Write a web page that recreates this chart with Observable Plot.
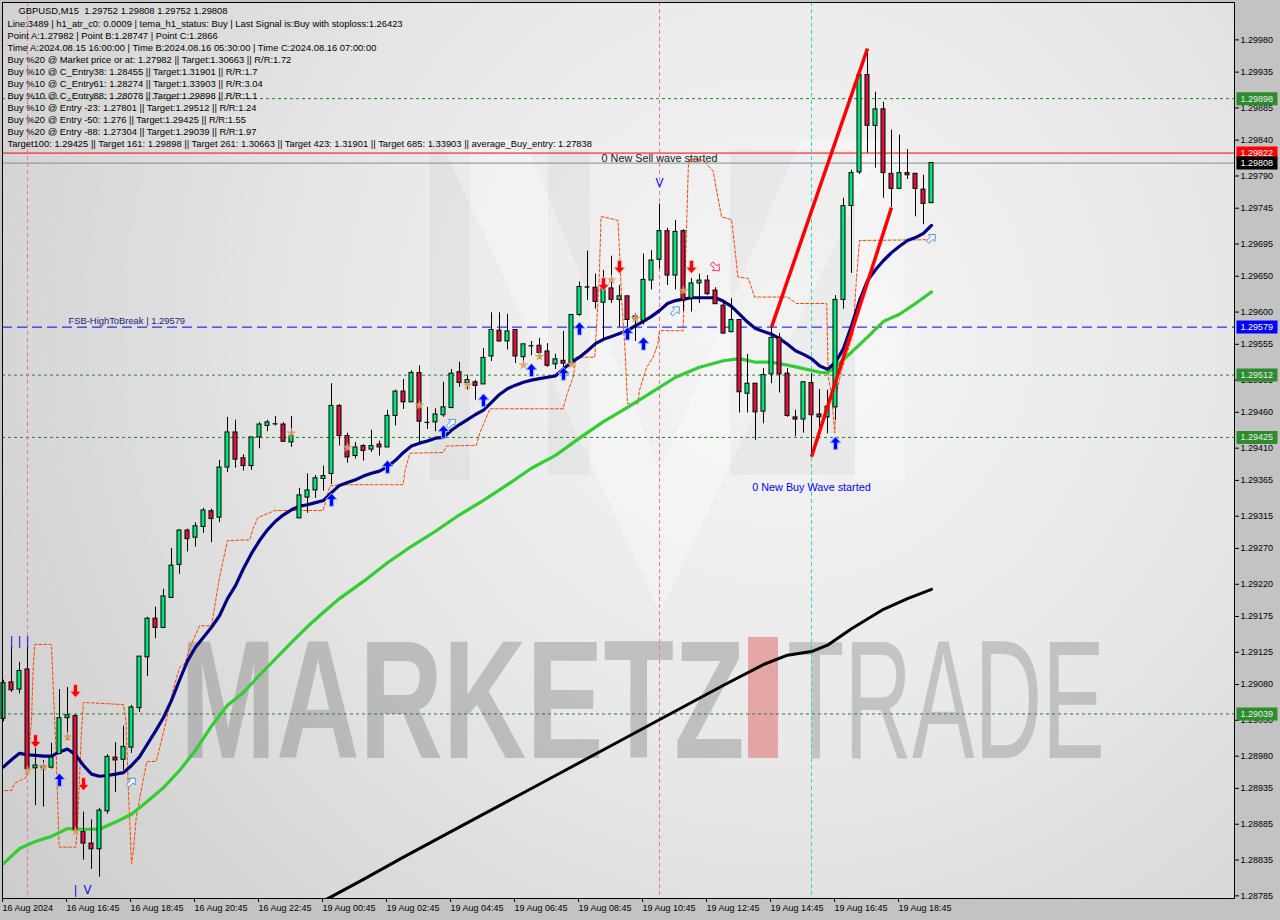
<!DOCTYPE html>
<html><head><meta charset="utf-8">
<script src="https://cdn.jsdelivr.net/npm/d3@7"></script>
<script src="https://cdn.jsdelivr.net/npm/@observablehq/plot@0.6"></script>
<style>html,body{margin:0;padding:0;background:#c3c3c3;}svg{display:block}</style>
</head><body><div id="chart"></div>
<script>
// ---------- DATA ----------
const open = [1.29032,1.29083,1.29073,1.29101,1.28963,1.28966,1.28964,1.28983,1.29033,1.29036,
1.28874,1.28858,1.28850,1.28903,1.28978,1.28975,1.28992,1.29047,1.29118,1.29172,
1.29159,1.29201,1.29247,1.29295,1.29285,1.29300,1.29322,1.29313,1.29383,1.29432,
1.29396,1.29385,1.29425,1.29441,1.29444,1.29443,1.29418,1.29312,1.29341,1.29351,
1.29367,1.29374,1.29469,1.29427,1.29399,1.29413,1.29408,1.29415,1.29411,1.29455,
1.29489,1.29474,1.29515,1.29446,1.29446,1.29456,1.29466,1.29516,1.29501,1.29502,
1.29499,1.29538,1.29574,1.29559,1.29575,1.29537,1.29553,1.29553,1.29545,1.29527,
1.29532,1.29528,1.29596,1.29635,1.29634,1.29613,1.29633,1.29617,1.29622,1.29590,
1.29588,1.29644,1.29673,1.29713,1.29651,1.29713,1.29619,1.29640,1.29644,1.29630,
1.29609,1.29572,1.29589,1.29486,1.29500,1.29461,1.29513,1.29564,1.29514,1.29453,
1.29450,1.29501,1.29457,1.29453,1.29467,1.29617,1.29748,1.29795,1.29931,1.29860,
1.29883,1.29793,1.29772,1.29794,1.29793,1.29771,1.29752];
const high = [1.29086,1.29132,1.29111,1.29132,1.28995,1.28974,1.28998,1.29073,1.29076,1.29038,
1.28902,1.28891,1.28907,1.28982,1.28999,1.29022,1.29051,1.29119,1.29174,1.29188,
1.29213,1.29270,1.29296,1.29297,1.29306,1.29326,1.29325,1.29393,1.29453,1.29449,
1.29401,1.29425,1.29446,1.29449,1.29454,1.29446,1.29454,1.29354,1.29374,1.29372,
1.29385,1.29500,1.29471,1.29431,1.29418,1.29415,1.29435,1.29420,1.29463,1.29491,
1.29506,1.29518,1.29525,1.29467,1.29465,1.29502,1.29520,1.29530,1.29512,1.29505,
1.29549,1.29599,1.29599,1.29597,1.29575,1.29555,1.29559,1.29563,1.29556,1.29541,
1.29573,1.29596,1.29642,1.29685,1.29653,1.29658,1.29678,1.29637,1.29622,1.29598,
1.29681,1.29686,1.29751,1.29717,1.29728,1.29715,1.29647,1.29653,1.29651,1.29634,
1.29616,1.29619,1.29589,1.29541,1.29500,1.29521,1.29579,1.29570,1.29521,1.29463,
1.29502,1.29514,1.29492,1.29491,1.29623,1.29759,1.29798,1.29933,1.29961,1.29907,
1.29893,1.29854,1.29847,1.29827,1.29793,1.29791,1.29808];
const low = [1.29028,1.29069,1.29067,1.28960,1.28911,1.28909,1.28962,1.28982,1.29002,1.28872,
1.28835,1.28822,1.28811,1.28899,1.28929,1.28960,1.28984,1.29041,1.29091,1.29144,
1.29159,1.29201,1.29234,1.29265,1.29272,1.29291,1.29278,1.29306,1.29376,1.29382,
1.29378,1.29379,1.29409,1.29433,1.29441,1.29418,1.29411,1.29312,1.29319,1.29340,
1.29350,1.29359,1.29413,1.29389,1.29395,1.29392,1.29404,1.29399,1.29411,1.29441,
1.29464,1.29474,1.29418,1.29436,1.29433,1.29453,1.29465,1.29495,1.29491,1.29477,
1.29499,1.29531,1.29558,1.29547,1.29528,1.29528,1.29539,1.29534,1.29523,1.29520,
1.29523,1.29528,1.29594,1.29616,1.29604,1.29561,1.29612,1.29579,1.29567,1.29559,
1.29582,1.29631,1.29660,1.29637,1.29631,1.29601,1.29600,1.29612,1.29623,1.29611,
1.29569,1.29571,1.29459,1.29459,1.29421,1.29444,1.29500,1.29487,1.29453,1.29426,
1.29431,1.29398,1.29430,1.29430,1.29449,1.29604,1.29654,1.29792,1.29822,1.29801,
1.29759,1.29746,1.29772,1.29785,1.29733,1.29722,1.29752];
const close = [1.29082,1.29072,1.29099,1.28962,1.28967,1.28963,1.28978,1.29033,1.29037,1.28876,
1.28858,1.28850,1.28904,1.28979,1.28974,1.28993,1.29048,1.29119,1.29172,1.29159,
1.29203,1.29246,1.29295,1.29283,1.29301,1.29323,1.29311,1.29383,1.29432,1.29394,
1.29385,1.29425,1.29443,1.29446,1.29444,1.29419,1.29427,1.29344,1.29351,1.29368,
1.29371,1.29469,1.29427,1.29397,1.29411,1.29406,1.29413,1.29411,1.29455,1.29489,
1.29474,1.29515,1.29447,1.29446,1.29457,1.29467,1.29514,1.29501,1.29505,1.29497,
1.29536,1.29575,1.29559,1.29573,1.29538,1.29555,1.29553,1.29543,1.29525,1.29534,
1.29528,1.29596,1.29635,1.29635,1.29614,1.29637,1.29617,1.29622,1.29589,1.29594,
1.29645,1.29672,1.29713,1.29651,1.29712,1.29616,1.29640,1.29644,1.29625,1.29611,
1.29570,1.29589,1.29488,1.29500,1.29460,1.29512,1.29564,1.29513,1.29455,1.29450,
1.29502,1.29456,1.29453,1.29468,1.29617,1.29748,1.29794,1.29931,1.29860,1.29883,
1.29794,1.29772,1.29794,1.29791,1.29772,1.29751,1.29808];

// navy moving average, one value per bar
const navyMA = [1.28965,1.28975,1.28984,1.28982,1.28981,1.28980,1.28980,1.28986,1.28990,1.28982,
1.28967,1.28955,1.28952,1.28953,1.28955,1.28957,1.28967,1.28979,1.28997,1.29015,
1.29034,1.29058,1.29086,1.29113,1.29132,1.29146,1.29160,1.29176,1.29200,1.29218,
1.29242,1.29263,1.29281,1.29296,1.29308,1.29317,1.29324,1.29329,1.29331,1.29334,
1.29337,1.29348,1.29358,1.29362,1.29366,1.29371,1.29375,1.29378,1.29384,1.29393,
1.29404,1.29413,1.29417,1.29420,1.29424,1.29425,1.29435,1.29443,1.29450,1.29457,
1.29463,1.29474,1.29485,1.29493,1.29498,1.29502,1.29505,1.29507,1.29509,1.29511,
1.29521,1.29530,1.29537,1.29546,1.29556,1.29562,1.29566,1.29570,1.29574,1.29581,
1.29587,1.29594,1.29602,1.29612,1.29616,1.29618,1.29620,1.29620,1.29620,1.29620,
1.29615,1.29608,1.29597,1.29586,1.29577,1.29573,1.29569,1.29563,1.29555,1.29546,
1.29541,1.29535,1.29525,1.29520,1.29530,1.29549,1.29581,1.29616,1.29644,1.29659,
1.29672,1.29683,1.29692,1.29700,1.29704,1.29710,1.29721];

// green moving average (bar, value)
const greenBars = [0,2,4,6,8,10,12,14,16,18,20,22,24,26,28,30,32,34,36,38,40,42,
45,48,51,54,57,60,63,66,69,72,75,78,81,84,87,90,92,94,96,98,100,102,103,104,106,108,110,112,114,116];
const greenMA = [1.28830,1.28851,1.28861,1.28868,1.28879,1.28878,1.28878,1.28888,1.28899,1.28917,1.28936,
1.28960,1.28988,1.29022,1.29051,1.29069,1.29093,1.29116,1.29139,1.29161,1.29181,1.29200,
1.29224,1.29250,1.29273,1.29294,1.29317,1.29337,1.29359,1.29382,1.29400,1.29424,1.29447,1.29467,
1.29488,1.29509,1.29523,1.29532,1.29535,1.29530,1.29530,1.29526,1.29521,1.29516,1.29515,1.29524,
1.29544,1.29565,1.29587,1.29597,1.29612,1.29628];

// black moving average (bar, value)
const blackBars = [38,41,45,50,55,60,65,70,75,80,85,90,95,98,101,103,106,110,113,116];
const blackMA = [1.28766,1.28784,1.28808,1.28839,1.28869,1.28899,1.28929,1.28959,1.28989,1.29019,
1.29049,1.29079,1.29108,1.29121,1.29126,1.29135,1.29158,1.29185,1.29200,1.29213];

// orange dashed stepped line (bar, value)
const orangeBars = [-0.46,1.0,1.4,2.9,3.5,3.7,3.9,6.0,6.2,6.6,6.95,9.04,9.3,9.75,10.0,15.0,15.3,15.6,16.0,16.2,
16.6,17.45,17.9,19.1,19.95,21.2,22.0,22.7,23.3,24.5,26.0,27.0,28.0,30.8,31.2,31.8,33.5,33.9,39.95,40.8,
42.0,49.95,50.2,50.8,54.95,55.4,59.1,59.5,60.8,69.95,70.4,71.2,71.6,73.9,74.1,74.45,74.7,74.95,76.8,77.0,
77.25,77.7,78.0,79.3,79.5,80.4,81.2,81.8,82.0,84.95,85.3,85.6,85.8,87.45,88.7,89.3,89.75,91.0,91.4,91.8,
93.1,93.9,98.0,99.1,102.9,103.1,103.5,103.9,104.1,104.75,106.2,106.6,107.0,115.8];
const orangeLine = [1.28932,1.28932,1.28942,1.28951,1.29030,1.29100,1.29136,1.29136,1.29081,1.28979,
1.28853,1.28853,1.28895,1.29016,1.29055,1.29052,1.29030,1.28937,1.28830,1.28844,
1.28895,1.28946,1.28972,1.28973,1.29011,1.29072,1.29104,1.29110,1.29132,1.29162,
1.29162,1.29230,1.29281,1.29282,1.29298,1.29313,1.29321,1.29323,1.29323,1.29357,
1.29359,1.29359,1.29379,1.29403,1.29404,1.29413,1.29414,1.29430,1.29465,1.29465,
1.29484,1.29509,1.29537,1.29537,1.29574,1.29644,1.29733,1.29733,1.29728,1.29686,
1.29621,1.29546,1.29472,1.29472,1.29491,1.29523,1.29537,1.29556,1.29574,1.29574,
1.29686,1.29802,1.29814,1.29812,1.29797,1.29760,1.29733,1.29729,1.29691,1.29649,
1.29647,1.29621,1.29621,1.29612,1.29612,1.29509,1.29486,1.29431,1.29486,1.29518,
1.29570,1.29644,1.29700,1.29701];

// red wave lines
const waveStartBar = [96,101], waveStartPrice = [1.29579,1.29398];
const waveEndBar = [108,111], waveEndPrice = [1.29968,1.29746];

// signals
const buyArrowBars = [7,41,48,55,60,66,70,72,78,80,104];
const buyArrowPrices = [1.28947,1.29338,1.29384,1.29433,1.29477,1.29519,1.29514,1.29577,1.29570,1.29556,1.29417];
const sellArrowBars = [4,9,10,75,77,86];
const sellArrowPrices = [1.29001,1.29071,1.28941,1.29639,1.29663,1.29663];
const starBars = [3,5,8,9,36,43,52,58,65,67,71,76,79,85];
const starPrices = [1.28960,1.28965,1.29007,1.28875,1.29431,1.29411,1.29470,1.29498,1.29526,1.29538,1.29527,1.29645,1.29591,1.29630];
const hollowUpBars = [16,56,84,116];
const hollowUpPrices = [1.28944,1.29445,1.29602,1.29703];
const hollowDownBars = [89];
const hollowDownPrices = [1.29663];
const barMarkBars = [1,2,3,9];
const barMarkPrices = [1.29140,1.29140,1.29140,1.28793];
const vMarkBars = [10.5,82];
const vMarkPrices = [1.28793,1.29780];

// levels
const greenLevels = [1.29898,1.29512,1.29425,1.29039];
const fsbLevel = 1.29579;
const redLevel = 1.29822;
const bidLevel = 1.29808;
const pinkBars = [3,82];
const cyanBars = [101];

// axes
const yTicks = [1.29980,1.29935,1.29885,1.29840,1.29790,1.29745,1.29695,1.29650,1.29600,1.29555,1.29505,
1.29460,1.29410,1.29365,1.29315,1.29270,1.29220,1.29175,1.29125,1.29080,1.29030,1.28980,1.28935,1.28885,1.28835,1.28785];
const xTickBars = [0,8,16,24,32,40,48,56,64,72,80,88,96,104,112];
const xTickLabels = ["16 Aug 2024","16 Aug 16:45","16 Aug 18:45","16 Aug 20:45","16 Aug 22:45","19 Aug 00:45",
"19 Aug 02:45","19 Aug 04:45","19 Aug 06:45","19 Aug 08:45","19 Aug 10:45","19 Aug 12:45","19 Aug 14:45",
"19 Aug 16:45","19 Aug 18:45"];

// texts
const titleText = "GBPUSD,M15\u00a0 1.29752 1.29808 1.29752 1.29808";
const infoLines = [
"Line:3489 | h1_atr_c0: 0.0009 | tema_h1_status: Buy | Last Signal is:Buy with stoploss:1.26423",
"Point A:1.27982 | Point B:1.28747 | Point C:1.2866",
"Time A:2024.08.15 16:00:00 | Time B:2024.08.16 05:30:00 | Time C:2024.08.16 07:00:00",
"Buy %20 @ Market price or at: 1.27982 || Target:1.30663 || R/R:1.72",
"Buy %10 @ C_Entry38: 1.28455 || Target:1.31901 || R/R:1.7",
"Buy %10 @ C_Entry61: 1.28274 || Target:1.33903 || R/R:3.04",
"Buy %10 @ C_Entry88: 1.28078 || Target:1.29898 || R/R:1.1",
"Buy %10 @ Entry -23: 1.27801 || Target:1.29512 || R/R:1.24",
"Buy %20 @ Entry -50: 1.276 || Target:1.29425 || R/R:1.55",
"Buy %20 @ Entry -88: 1.27304 || Target:1.29039 || R/R:1.97",
"Target100: 1.29425 || Target 161: 1.29898 || Target 261: 1.30663 || Target 423: 1.31901 || Target 685: 1.33903 || average_Buy_entry: 1.27838"
];
const sellWaveText = "0 New Sell wave started", sellWaveBar = 82, sellWavePrice = 1.29814;
const buyWaveText = "0 New Buy Wave started", buyWaveBar = 101, buyWavePrice = 1.29355;
const fsbText = "FSB-HighToBreak | 1.29579", fsbBar = 8;
const watermarkWords = ["MARKETZ", "TRADE"];

// ---------- BUILD ----------
const bars = open.map((o, i) => ({i, o, h: high[i], l: low[i], c: close[i]}));
const upBars = bars.filter(d => d.c > d.o);
const downBars = bars.filter(d => d.c < d.o);
const dojiBars = bars.filter(d => d.c === d.o);

function arrowSymbol(angle) {
  const pts = [[0,-1],[0.85,-0.05],[0.32,-0.05],[0.32,1],[-0.32,1],[-0.32,-0.05],[-0.85,-0.05]];
  const a = angle * Math.PI / 180, ca = Math.cos(a), sa = Math.sin(a);
  return {draw(ctx, size) {
    const s = Math.sqrt(size / Math.PI);
    pts.forEach(([x, y], k) => {
      const X = (x * ca - y * sa) * s, Y = (x * sa + y * ca) * s;
      k ? ctx.lineTo(X, Y) : ctx.moveTo(X, Y);
    });
    ctx.closePath();
  }};
}
const tagBox = {draw(ctx) { ctx.moveTo(-20.5,-6.5); ctx.lineTo(20.5,-6.5); ctx.lineTo(20.5,6.5); ctx.lineTo(-20.5,6.5); ctx.closePath(); }};
const fmt5 = d3.format(".5f");
const FONT = "Liberation Sans, Arial, sans-serif";

function tag(level, bg, fg) {
  return [
    Plot.dot([level], {y: d => d, frameAnchor: "right", dx: 22.5, symbol: tagBox, r: 5, fill: bg, stroke: "none"}),
    Plot.text([level], {y: d => d, frameAnchor: "right", dx: 6, textAnchor: "start", text: fmt5, fill: fg, fontSize: 9})
  ];
}

const chart = Plot.plot({
  width: 1280, height: 920,
  marginLeft: 2, marginTop: 2, marginRight: 46, marginBottom: 22,
  style: {fontFamily: FONT, fontSize: "9px", background: "#c3c3c3", color: "#000", overflow: "visible"},
  x: {type: "linear", domain: [-0.125, 153.875]},
  y: {type: "linear", domain: [1.287813, 1.300322]},
  marks: [
    Plot.frame({fill: "url(#bgGrad)"}),
    Plot.ruleY(greenLevels, {y: d => d, stroke: "#1f8a1f", strokeDasharray: "3,3"}),
    Plot.ruleY([fsbLevel], {y: d => d, stroke: "#0000ff", strokeDasharray: "10,5"}),
    Plot.ruleY([redLevel], {y: d => d, stroke: "#ff0000"}),
    Plot.ruleY([bidLevel], {y: d => d, stroke: "#7d8c9c"}),
    Plot.ruleX(pinkBars, {x: d => d, stroke: "#f070b0", strokeDasharray: "4,3"}),
    Plot.ruleX(cyanBars, {x: d => d, stroke: "#28d8e0", strokeDasharray: "4,3"}),
    Plot.line(orangeLine, {x: (d, i) => orangeBars[i], y: d => d, stroke: "#ff4500", strokeWidth: 1, strokeDasharray: "3,2", clip: true}),
    Plot.line(blackMA, {x: (d, i) => blackBars[i], y: d => d, stroke: "#000000", strokeWidth: 3, clip: true}),
    Plot.line(greenMA, {x: (d, i) => greenBars[i], y: d => d, stroke: "#32cd32", strokeWidth: 3.2, clip: true}),
    Plot.line(navyMA, {x: (d, i) => i, y: d => d, stroke: "#000080", strokeWidth: 3.2, clip: true}),
    Plot.ruleX(bars, {x: "i", y1: "l", y2: "h", stroke: "#000", strokeWidth: 1}),
    Plot.rect(upBars, {x1: d => d.i - 0.25, x2: d => d.i + 0.25, y1: "o", y2: "c", fill: "#00e676", stroke: "#000", strokeWidth: 1}),
    Plot.rect(downBars, {x1: d => d.i - 0.25, x2: d => d.i + 0.25, y1: "o", y2: "c", fill: "#dc143c", stroke: "#000", strokeWidth: 1}),
    Plot.ruleY(dojiBars, {y: "o", x1: d => d.i - 0.3, x2: d => d.i + 0.3, stroke: "#000", strokeWidth: 1.3}),
    Plot.link(waveStartBar, {x1: d => d, y1: (d, i) => waveStartPrice[i], x2: (d, i) => waveEndBar[i], y2: (d, i) => waveEndPrice[i], stroke: "#ff0000", strokeWidth: 3.5}),
    Plot.dot(starPrices, {x: (d, i) => starBars[i], y: d => d, symbol: "star", r: 3.3, fill: "#dca262", fillOpacity: 0.9, stroke: "none"}),
    Plot.dot(buyArrowPrices, {x: (d, i) => buyArrowBars[i], y: d => d, symbol: arrowSymbol(0), r: 6.5, fill: "#0000ff", stroke: "#90b4ff", strokeWidth: 1}),
    Plot.dot(sellArrowPrices, {x: (d, i) => sellArrowBars[i], y: d => d, symbol: arrowSymbol(180), r: 6.5, fill: "#ff0000", stroke: "#ffb0b0", strokeWidth: 1}),
    Plot.dot(hollowUpPrices, {x: (d, i) => hollowUpBars[i], y: d => d, symbol: arrowSymbol(45), r: 5.5, fill: "#f4faff", stroke: "#4a96e0", strokeWidth: 1}),
    Plot.dot(hollowDownPrices, {x: (d, i) => hollowDownBars[i], y: d => d, symbol: arrowSymbol(135), r: 5.5, fill: "#fff0f4", stroke: "#ff3060", strokeWidth: 1}),
    Plot.text(barMarkPrices, {x: (d, i) => barMarkBars[i], y: d => d, text: () => "|", fill: "#0000ff", fontSize: 12}),
    Plot.text(vMarkPrices, {x: (d, i) => vMarkBars[i], y: d => d, text: () => "V", fill: "#0000ff", fontSize: 12, fontWeight: 300}),
    Plot.text([fsbText], {x: fsbBar, y: fsbLevel, text: d => d, textAnchor: "start", dx: 1, dy: -6.5, fill: "#1c1c7a", fontSize: 9.4}),
    Plot.text([sellWaveText], {x: sellWaveBar, y: sellWavePrice, text: d => d, fill: "#1a1a1a", fontSize: 10.8}),
    Plot.text([buyWaveText], {x: buyWaveBar, y: buyWavePrice, text: d => d, fill: "#0000ff", fontSize: 10.8}),
    Plot.text([titleText], {frameAnchor: "top-left", text: d => d, dx: 16, dy: 5.3, fill: "#000", fontSize: 9.4}),
    Plot.text([infoLines.join("\n")], {frameAnchor: "top-left", text: d => d, dx: 5, dy: 16, lineHeight: 12 / 9.4, fill: "#000", fontSize: 9.4}),
    Plot.frame({stroke: "#000"}),
    Plot.axisY({anchor: "right", ticks: yTicks, tickFormat: fmt5, tickSize: 4, tickPadding: 2, fontSize: 9, label: null, textAnchor: "start"}),
    Plot.axisX({anchor: "bottom", ticks: xTickBars, tickFormat: d => xTickLabels[xTickBars.indexOf(d)], tickSize: 4, tickPadding: 2, fontSize: 9, label: null, textAnchor: "start", dx: -1}),
    ...greenLevels.flatMap(l => tag(l, "#2e8b2e", "#e8f0e8")),
    ...tag(redLevel, "#ff0000", "#ffffff"),
    ...tag(bidLevel, "#000000", "#ffffff"),
    ...tag(fsbLevel, "#0000ff", "#ffffff")
  ]
});

document.getElementById("chart").appendChild(chart);

// background gradient + watermark (decoration)
const svg = d3.select(chart);
const defs = svg.insert("defs", ":first-child");
const rg = defs.append("radialGradient").attr("id", "bgGrad").attr("gradientUnits", "userSpaceOnUse")
  .attr("cx", 780).attr("cy", 330).attr("r", 950);
rg.append("stop").attr("offset", "0").attr("stop-color", "#f6f6f6");
rg.append("stop").attr("offset", "0.45").attr("stop-color", "#e8e8e8");
rg.append("stop").attr("offset", "1").attr("stop-color", "#cdcdcd");

const bgFrame = chart.querySelector('[aria-label="frame"]');
const wm = d3.create("svg:g").attr("pointer-events", "none").attr("text-anchor", "start");
// faint "M" logo
wm.append("polygon").attr("points", "430,140 470,140 470,480 430,480").attr("fill", "#000").attr("fill-opacity", 0.03);
wm.append("polygon").attr("points", "548,150 590,150 590,475 548,475").attr("fill", "#000").attr("fill-opacity", 0.035);
wm.append("polygon").attr("points", "730,150 855,150 855,475 730,475").attr("fill", "#000").attr("fill-opacity", 0.035);
wm.append("polygon").attr("points", "440,140 525,140 660,470 800,140 885,140 660,612").attr("fill", "#fff").attr("fill-opacity", 0.3);
wm.append("polygon").attr("points", "855,140 905,140 905,480 855,480").attr("fill", "#fff").attr("fill-opacity", 0.25);
// MARKETZ I TRADE (vertically stretched so that the natural width matches)
wm.append("text").attr("transform", "translate(180,758) scale(1,1.46)").attr("text-anchor", "start")
  .text(watermarkWords[0])
  .attr("font-family", FONT).attr("font-weight", "bold").attr("font-size", 115.5)
  .attr("fill", "#808080").attr("fill-opacity", 0.4);
wm.append("rect").attr("x", 748).attr("y", 637).attr("width", 30).attr("height", 121)
  .attr("fill", "#e04848").attr("fill-opacity", 0.42);
wm.append("text").attr("transform", "translate(787,758) scale(1,1.8)").attr("text-anchor", "start")
  .text(watermarkWords[1])
  .attr("font-family", FONT).attr("font-size", 93.8)
  .attr("fill", "#808080").attr("fill-opacity", 0.36);
bgFrame.after(wm.node());
</script>
</body></html>
